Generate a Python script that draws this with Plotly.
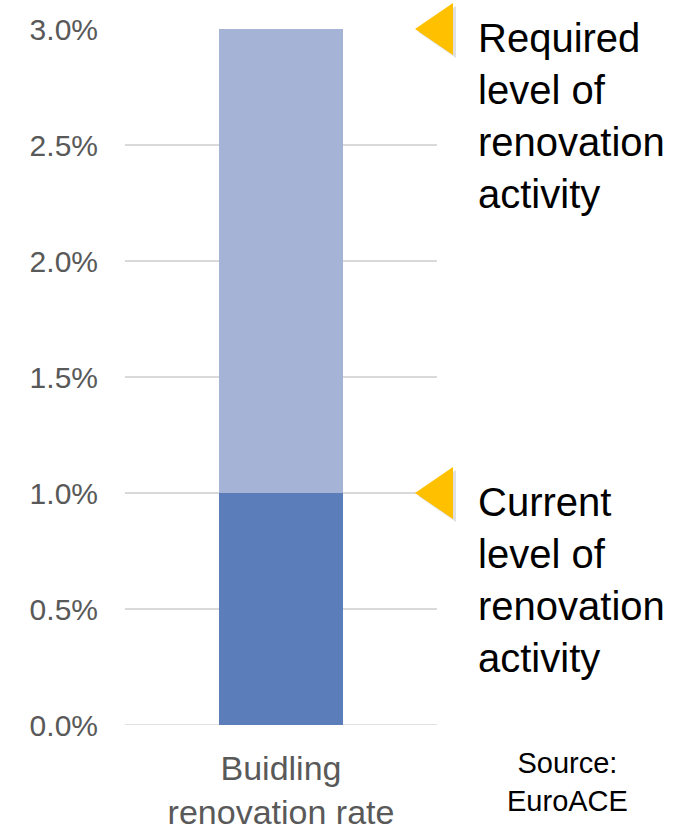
import plotly.graph_objects as go

categories = ["Buidling<br>renovation rate"]
current_rate = [0.01]
required_rate = [0.03]
additional_needed = [r - c for r, c in zip(required_rate, current_rate)]
y_ticks = [0, 0.005, 0.01, 0.015, 0.02, 0.025, 0.03]
y_max = 0.03
marker_levels = [required_rate[0], current_rate[0]]
marker_labels = ["Required<br>level of<br>renovation<br>activity",
                 "Current<br>level of<br>renovation<br>activity"]
source_text = "Source:<br>EuroACE"

FONT = "Arial, Liberation Sans, sans-serif"
W, H = 683, 831
ML, MR, MT, MB = 125, 246, 29, 106
PW = W - ML - MR
PH = H - MT - MB

fig = go.Figure()
fig.add_trace(go.Bar(x=categories, y=current_rate, marker_color="#5B7DBA",
                     width=0.4, marker_line_width=0, hoverinfo="y"))
fig.add_trace(go.Bar(x=categories, y=additional_needed, marker_color="#A5B3D6",
                     width=0.4, marker_line_width=0, hoverinfo="y"))

shapes = []
annotations = []
tip_x = (415 - ML) / PW
back_x = (453 - ML) / PW
half_h = 26 / PH
sdx, sdy = 3 / PW, 3 / PH
for lvl, lab in zip(marker_levels, marker_labels):
    py = lvl / y_max
    shapes.append(dict(type="path", xref="paper", yref="paper",
                       path=f"M {tip_x+sdx} {py-sdy} L {back_x+sdx} {py+half_h-sdy} L {back_x+sdx} {py-half_h-sdy} Z",
                       fillcolor="rgba(0,0,0,0.12)", line_width=0, layer="above"))
    shapes.append(dict(type="path", xref="paper", yref="paper",
                       path=f"M {tip_x} {py} L {back_x} {py+half_h} L {back_x} {py-half_h} Z",
                       fillcolor="#FFC000", line_width=0, layer="above"))
    annotations.append(dict(text=lab, xref="paper", yref="paper",
                            x=(476 - ML) / PW, y=py + 15 / PH,
                            xanchor="left", yanchor="top", align="left",
                            showarrow=False,
                            font=dict(family=FONT, size=40, color="#000000")))

annotations.append(dict(text=source_text, xref="paper", yref="paper",
                        x=(567 - ML) / PW, y=-20 / PH,
                        xanchor="center", yanchor="top", align="center",
                        showarrow=False,
                        font=dict(family=FONT, size=29, color="#000000")))

fig.update_layout(
    width=W, height=H,
    margin=dict(l=ML, r=MR, t=MT, b=MB),
    barmode="stack",
    showlegend=False,
    plot_bgcolor="white", paper_bgcolor="white",
    shapes=shapes, annotations=annotations,
    font=dict(family=FONT),
)
fig.update_xaxes(range=[-0.5, 0.5], showgrid=False, showline=False, zeroline=False,
                 ticks="", tickfont=dict(family=FONT, size=34, color="#595959"),
                 ticklabelstandoff=20, automargin=False)
fig.update_yaxes(range=[0, y_max], tickvals=y_ticks, tickformat=".1%",
                 showgrid=True, gridcolor="#D9D9D9", gridwidth=1.5,
                 zeroline=False, showline=False, ticks="",
                 tickfont=dict(family=FONT, size=30, color="#595959"),
                 ticklabelstandoff=26, automargin=False)
fig.add_hline(y=0, line_color="#D9D9D9", line_width=1.5, layer="below")

fig.write_html("out.html", config={"displayModeBar": False},
               post_script="document.body.style.margin='0';document.body.style.overflow='hidden';")
